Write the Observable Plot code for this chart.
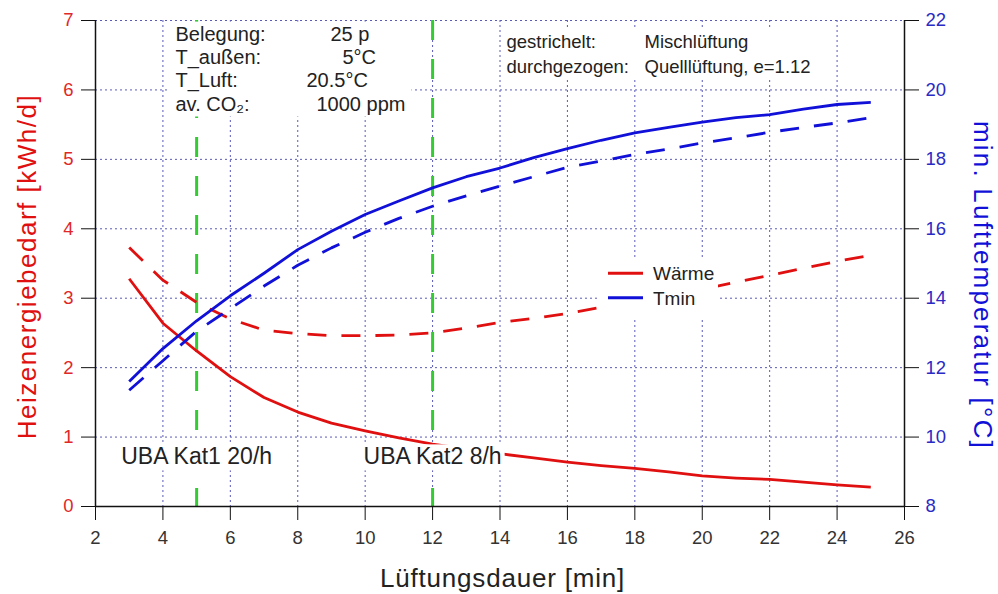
<!DOCTYPE html>
<html>
<head>
<meta charset="utf-8">
<script src="https://cdn.jsdelivr.net/npm/d3@7"></script>
<script src="https://cdn.jsdelivr.net/npm/@observablehq/plot@0.6"></script>
<style>
  html, body { margin: 0; padding: 0; background: #fff; }
  #chart svg { display: block; }
  g.lab-left text { letter-spacing: 1.5px; }
  g.lab-right text { letter-spacing: 2.2px; }
  g.lab-bottom text { letter-spacing: 0.8px; }
</style>
</head>
<body>
<div id="chart"></div>
<script>
// ---- data ----
const minutes   = [3, 4, 5, 6, 7, 8, 9, 10, 11, 12, 13, 14, 15, 16, 17, 18, 19, 20, 21, 22, 23, 24, 25];
// Heizenergiebedarf [kWh/d]
const heatQuell = [3.28, 2.64, 2.24, 1.87, 1.57, 1.36, 1.20, 1.09, 0.99, 0.90, 0.83, 0.76, 0.70, 0.64, 0.59, 0.55, 0.50, 0.44, 0.41, 0.39, 0.35, 0.31, 0.28];
const heatMisch = [3.73, 3.26, 2.94, 2.70, 2.54, 2.49, 2.46, 2.46, 2.47, 2.50, 2.57, 2.65, 2.71, 2.78, 2.87, 2.96, 3.05, 3.13, 3.23, 3.33, 3.43, 3.53, 3.62];
// min. Lufttemperatur [°C]
const tminQuell = [11.6, 12.55, 13.35, 14.07, 14.72, 15.4, 15.93, 16.41, 16.8, 17.18, 17.5, 17.75, 18.05, 18.31, 18.55, 18.76, 18.92, 19.07, 19.2, 19.29, 19.45, 19.58, 19.64];
const tminMisch = [11.35, 12.2, 13.05, 13.7, 14.35, 14.95, 15.45, 15.9, 16.3, 16.65, 16.95, 17.23, 17.5, 17.77, 17.95, 18.14, 18.3, 18.47, 18.62, 18.78, 18.92, 19.05, 19.2];

const xTicks    = [2, 4, 6, 8, 10, 12, 14, 16, 18, 20, 22, 24, 26];
const heatTicks = [0, 1, 2, 3, 4, 5, 6, 7];
const tempTicks = [8, 10, 12, 14, 16, 18, 20, 22];

const ubaMinutes = [5, 12];
const ubaLabels  = ["UBA Kat1 20/h", "UBA Kat2 8/h"];

const infoLabels  = ["Belegung:", "T_außen:", "T_Luft:", "av. CO₂:"];
const infoValues  = ["25 p", "5°C", "20.5°C", "1000 ppm"];
const styleLabels = ["gestrichelt:", "durchgezogen:"];
const styleValues = ["Mischlüftung", "Quelllüftung, e=1.12"];
const legendLabels = ["Wärme", "Tmin"];

// ---- layout / style ----
const W = 998, H = 594;
const M = {top: 20, right: 94, bottom: 88, left: 95};
const FONT = '"Liberation Sans", Arial, Helvetica, sans-serif';
const RED = "#e01010", BLUE = "#1010d8", GREEN = "#33cc33", GRID = "#5a5ab8";
const RED_TXT = "#e02828", BLUE_TXT = "#2a2ac4", DARK = "#222";
const at = (x, y) => ({frameAnchor: "top-left", dx: x - M.left, dy: y - M.top});
const infoValueX = [330, 342, 306, 316];

// map temperature axis onto the heat axis
const tSpan = tempTicks[tempTicks.length - 1] - tempTicks[0];
const hSpan = heatTicks[heatTicks.length - 1] - heatTicks[0];
const toLeft = t => heatTicks[0] + (t - tempTicks[0]) * hSpan / tSpan;
const fromLeft = v => Math.round(tempTicks[0] + (v - heatTicks[0]) * tSpan / hSpan);

const lineOpts = (color, dashed, conv = d => d) => ({
  x: (d, i) => minutes[i], y: d => conv(d), stroke: color, strokeWidth: 2.8,
  strokeDasharray: dashed ? "19,15" : null, strokeLinejoin: "round", strokeLinecap: "butt"
});

const marks = [
  Plot.gridX(xTicks, {stroke: GRID, strokeOpacity: 1, strokeWidth: 1, strokeDasharray: "2,3"}),
  Plot.gridY(heatTicks, {stroke: GRID, strokeOpacity: 1, strokeWidth: 1, strokeDasharray: "2,3"}),
  Plot.ruleX(ubaMinutes, {stroke: GREEN, strokeWidth: 3, strokeDasharray: "20,19"}),
  Plot.line(heatMisch, lineOpts(RED, true)),
  Plot.line(heatQuell, lineOpts(RED, false)),
  Plot.line(tminMisch, lineOpts(BLUE, true, toLeft)),
  Plot.line(tminQuell, lineOpts(BLUE, false, toLeft)),
  Plot.ruleX([xTicks[0], xTicks[xTicks.length - 1]], {stroke: "#111", strokeWidth: 1.5}),
  Plot.ruleY([heatTicks[0]], {stroke: "#111", strokeWidth: 1.5}),
  Plot.axisX(xTicks, {tickSize: 14, tickPadding: 10, fontSize: 18.5, fill: "#333", stroke: "#111", label: null, tickFormat: d3.format("d")}),
  Plot.axisY(heatTicks, {anchor: "left", tickSize: 14, tickPadding: 8, fontSize: 18.5, fill: RED_TXT, stroke: "#111", label: null, tickFormat: d3.format("d")}),
  Plot.axisY(tempTicks.map(toLeft), {anchor: "right", tickSize: 14, tickPadding: 7, fontSize: 18.5, fill: BLUE_TXT, stroke: "#111", label: null, tickFormat: fromLeft}),
  Plot.text(ubaMinutes, {x: d => d, frameAnchor: "bottom", dy: -50, text: (d, i) => ubaLabels[i], textAnchor: "middle", lineAnchor: "middle", fontSize: 23, fill: DARK, className: "uba"}),
  ...infoLabels.map((t, i) => Plot.text([t], {...at(175, 33.7 + i * 23.3), text: d => d, textAnchor: "start", lineAnchor: "middle", fontSize: 20, fill: DARK, className: "info"})),
  ...infoValues.map((t, i) => Plot.text([t], {...at(infoValueX[i], 33.7 + i * 23.3), text: d => d, textAnchor: "start", lineAnchor: "middle", fontSize: 20, fill: DARK, className: "info"})),
  ...styleLabels.map((t, i) => Plot.text([t], {...at(506, 41.7 + i * 24.6), text: d => d, textAnchor: "start", lineAnchor: "middle", fontSize: 18.5, fill: DARK, className: "style"})),
  ...styleValues.map((t, i) => Plot.text([t], {...at(644, 41.7 + i * 24.6), text: d => d, textAnchor: "start", lineAnchor: "middle", fontSize: 18.5, fill: DARK, className: "style"})),
  Plot.text(["Heizenergiebedarf [kWh/d]"], {frameAnchor: "left", dx: 27 - M.left, dy: 3, rotate: -90, textAnchor: "middle", lineAnchor: "middle", text: d => d, fontSize: 26, fill: RED, className: "lab-left"}),
  Plot.text(["min. Lufttemperatur [°C]"], {frameAnchor: "right", dx: 78, dy: 22, rotate: 90, textAnchor: "middle", lineAnchor: "middle", text: d => d, fontSize: 26, fill: BLUE, className: "lab-right"}),
  Plot.text(["Lüftungsdauer [min]"], {frameAnchor: "bottom", dx: 2.5, dy: 72, textAnchor: "middle", lineAnchor: "middle", text: d => d, fontSize: 26, fill: DARK, className: "lab-bottom"})
];

const chart = Plot.plot({
  width: W, height: H,
  marginTop: M.top, marginRight: M.right, marginBottom: M.bottom, marginLeft: M.left,
  style: {fontFamily: FONT, background: "#fff", overflow: "visible"},
  x: {domain: [xTicks[0], xTicks[xTicks.length - 1]]},
  y: {domain: [heatTicks[0], heatTicks[heatTicks.length - 1]]},
  marks
});
document.getElementById("chart").append(chart);

// ---- white boxes behind annotation texts ----
const NS = "http://www.w3.org/2000/svg";
const sr = chart.getBoundingClientRect();
function unionRect(els) {
  let x0 = Infinity, y0 = Infinity, x1 = -Infinity, y1 = -Infinity;
  els.forEach(el => {
    const r = el.getBoundingClientRect();
    x0 = Math.min(x0, r.left - sr.left); y0 = Math.min(y0, r.top - sr.top);
    x1 = Math.max(x1, r.right - sr.left); y1 = Math.max(y1, r.bottom - sr.top);
  });
  return {x0, y0, x1, y1};
}
function boxBefore(groupSel, padL, padR, padT, padB) {
  const groups = Array.from(chart.querySelectorAll(groupSel));
  if (!groups.length) return;
  const texts = groups.flatMap(g => Array.from(g.querySelectorAll("text")));
  const b = unionRect(texts);
  const rect = document.createElementNS(NS, "rect");
  rect.setAttribute("x", b.x0 - padL); rect.setAttribute("y", b.y0 - padT);
  rect.setAttribute("width", b.x1 - b.x0 + padL + padR);
  rect.setAttribute("height", b.y1 - b.y0 + padT + padB);
  rect.setAttribute("fill", "#fff");
  chart.insertBefore(rect, groups[0]);
}
boxBefore("g.info", 6, 6, 1, 2);
boxBefore("g.style", 3, 12, 2, 3);
// boxes behind each UBA label (in the text's own coordinate system)
chart.querySelectorAll("g.uba text").forEach(t => {
  const b = t.getBBox();
  const rect = document.createElementNS(NS, "rect");
  rect.setAttribute("x", b.x - 3); rect.setAttribute("y", b.y + 1.5);
  rect.setAttribute("width", b.width + 6); rect.setAttribute("height", b.height);
  rect.setAttribute("fill", "#fff");
  if (t.getAttribute("transform")) rect.setAttribute("transform", t.getAttribute("transform"));
  t.parentNode.insertBefore(rect, t);
});

// ---- legend ----
const lg = d3.select(chart).append("g").attr("font-family", FONT).attr("text-anchor", "start");
lg.append("rect").attr("x", 600).attr("y", 259).attr("width", 118).attr("height", 60).attr("fill", "#fff");
legendLabels.forEach((lab, i) => {
  const y = 273.3 + i * 24.4;
  lg.append("line").attr("x1", 608).attr("x2", 643).attr("y1", y).attr("y2", y)
    .attr("stroke", [RED, BLUE][i]).attr("stroke-width", 3);
  lg.append("text").attr("x", 653).attr("y", y).attr("dy", "0.36em")
    .attr("text-anchor", "start").attr("font-size", 19).attr("fill", DARK).text(lab);
});
</script>
</body>
</html>
